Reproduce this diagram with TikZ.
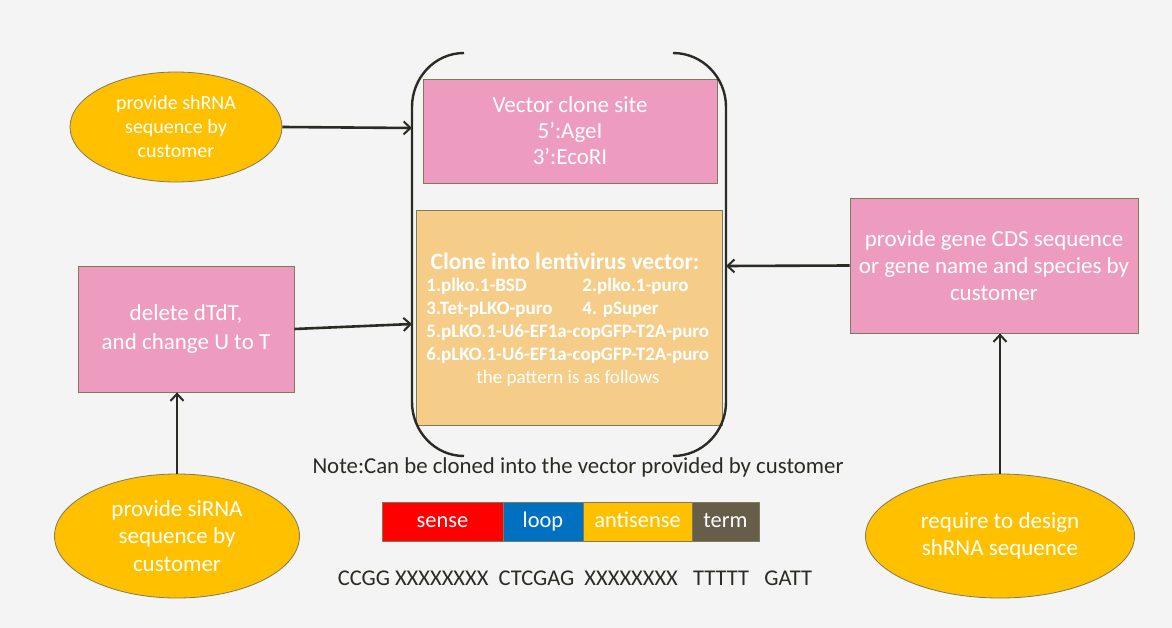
\documentclass[tikz,border=0pt]{standalone}
\usepackage{fontspec}
\setmainfont{Carlito}
\usetikzlibrary{arrows.meta,shapes.geometric}

\definecolor{bgcol}{HTML}{F4F4F4}
\definecolor{pinkfill}{HTML}{EE9BC0}
\definecolor{goldfill}{HTML}{FFC000}
\definecolor{tanfill}{HTML}{F5CC88}
\definecolor{edgecol}{HTML}{7F7A5C}
\definecolor{inkcol}{HTML}{2B2A24}
\definecolor{loopcol}{HTML}{0070C0}
\definecolor{termcol}{HTML}{665E48}

\begin{document}
\begin{tikzpicture}[x=1pt,y=-1pt,
  every path/.append style={line width=0.8pt},
  oval/.style={ellipse,draw=edgecol,fill=goldfill,text=white,align=center,inner sep=0pt,font=\fontsize{23}{27.5}\selectfont},
  pinkbox/.style={rectangle,draw=edgecol,fill=pinkfill,text=white,align=center,inner sep=0pt,font=\fontsize{23}{27}\selectfont},
  seg/.style={rectangle,draw=edgecol,text=white,inner sep=0pt,minimum height=39pt,text height=14pt,text depth=3pt,font=\fontsize{22.4}{24}\selectfont},
  flow/.style={draw=inkcol,line width=2.6pt,-{Straight Barb[length=7pt,width=13pt,line width=2pt]}}]
  \fill[bgcol] (0,0) rectangle (1172,628);

  % left side
  \node (shrna) at (176,127) [oval,minimum width=212pt,minimum height=110pt,font=\fontsize{20}{24}\selectfont] {provide shRNA\\sequence by\\customer};
  \node (dtdt) at (186,329) [pinkbox,minimum width=216pt,minimum height=126pt,font=\fontsize{23}{29}\selectfont] {delete dTdT,\\and change U to T};
  \node (sirna) at (177,536) [oval,minimum width=245pt,minimum height=124pt] {provide siRNA\\sequence by\\customer};

  % centre
  \node (site) at (570,131) [pinkbox,minimum width=294pt,minimum height=104pt,font=\fontsize{23}{26}\selectfont] {Vector clone site\\5’:AgeI\\3’:EcoRI};
  \node (clone) at (569,317.5) [rectangle,draw=edgecol,fill=tanfill,minimum width=306pt,minimum height=215pt] {};
  \node (title) at (565,261) [text=white,font=\bfseries\fontsize{23.5}{26}\selectfont] {Clone into lentivirus vector:};
  \node (list) at (426,320.5) [anchor=west,text=white,align=left,inner sep=0pt,font=\bfseries\fontsize{19}{23}\selectfont]
    {\makebox[156pt][l]{1.plko.1-BSD}2.plko.1-puro\\
     \makebox[156pt][l]{3.Tet-pLKO-puro}4. pSuper\\
     5.pLKO.1-U6-EF1a-copGFP-T2A-puro\\
     6.pLKO.1-U6-EF1a-copGFP-T2A-puro};
  \node (pattern) at (568,378) [text=white,font=\fontsize{19}{22}\selectfont] {the pattern is as follows};

  % the two brackets
  \draw[inkcol,line width=2.4pt] (464,53) to[out=180,in=90] (412,107) -- (412,402) to[out=-90,in=180] (464,456);
  \draw[inkcol,line width=2.4pt] (673,53) to[out=0,in=90] (726,107) -- (726,402) to[out=-90,in=0] (673,456);
  \coordinate (bktA) at (412,128);
  \coordinate (bktB) at (412,324);
  \coordinate (bktC) at (726,266);

  \node (note) at (578,467) [text=inkcol,font=\fontsize{22.8}{26}\selectfont] {Note:Can be cloned into the vector provided by customer};

  % hairpin pattern
  \node (sense) at (442.5,521.5) [seg,fill=red,minimum width=121pt] {sense};
  \node (loop) at (543,521.5) [seg,fill=loopcol,minimum width=80pt] {loop};
  \node (anti) at (637.5,521.5) [seg,fill=goldfill,minimum width=109pt] {antisense};
  \node (term) at (725.5,521.5) [seg,fill=termcol,minimum width=67pt] {term};
  \node (seq) at (575,578) [text=inkcol,font=\fontsize{22.5}{26}\selectfont]
    {CCGG XXXXXXXX\ \ CTCGAG\ \ XXXXXXXX\ \ \ TTTTT\ \ \ GATT};

  % right side
  \node (gene) at (994,265.5) [pinkbox,minimum width=288pt,minimum height=135pt] {provide gene CDS sequence\\or gene name and species by\\customer};
  \node (design) at (1000,536) [oval,minimum width=269pt,minimum height=124pt] {require to design\\shRNA sequence};

  \draw[flow] (shrna.east) -- (bktA);
  \draw[flow] (dtdt.east) -- (bktB);
  \draw[flow] (sirna.north) -- (sirna.north |- dtdt.south);
  \draw[flow] (gene.west) -- (bktC);
  \draw[flow] (design.north) -- (design.north |- gene.south);
\end{tikzpicture}
\end{document}
